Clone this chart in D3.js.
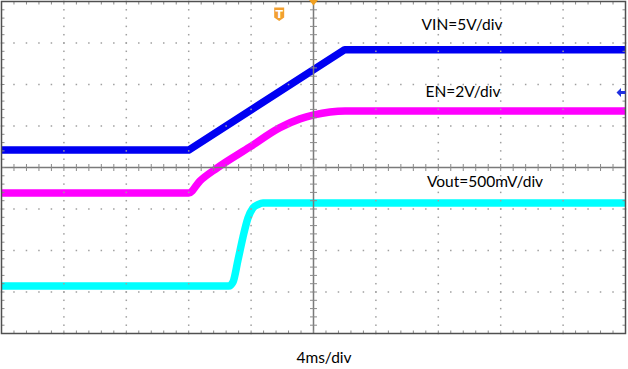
<!DOCTYPE html>
<html><head><meta charset="utf-8">
<script src="https://cdn.jsdelivr.net/npm/d3@7"></script>
<style>html,body{margin:0;padding:0;background:#fff;}svg{display:block;}</style>
</head><body>
<svg id="c" width="628" height="369"></svg>
<script>
// time axis: 4 ms/div, 10 divisions, trigger at centre
const timeRangeMs = [-20, 20];
// channel settings (volts per division, ground level in divisions from centre)
const channels = ["VIN", "EN", "Vout"];
const voltsPerDiv = [5, 2, 0.5];
const groundDiv = [0.42, -0.614, -2.855];
const channelLabels = ["VIN=5V/div", "EN=2V/div", "Vout=500mV/div"];
const timebaseLabel = "4ms/div";

// VIN trace
const vinTime = [-20, -8.0, 2.0, 20];
const vinVolts = [0, 0, 12.1, 12.1];
// EN trace
const enTime = [-20, -8.0, -7.28, -6.19, -4.07, -2.15, -0.87, 0.03, 1.06, 2.02, 20];
const enVolts = [0, 0, 0.58, 1.20, 2.22, 3.15, 3.57, 3.76, 3.90, 3.95, 3.95];
// Vout trace
const voutTime = [-20, -5.42, -5.16, -4.84, -4.52, -4.2, -3.88, -3.56, -3.24, 20];
const voutVolts = [0, 0, 0.048, 0.313, 0.59, 0.819, 0.94, 0.98, 1.0, 1.0];

const colors = ["#0000f2", "#ff00ff", "#00ffff"];

const svg = d3.select("#c");
const L = 1.5, R = 625.5, T = 1.5, B = 333.5;
const x = d3.scaleLinear().domain(timeRangeMs).range([L, R]);
const yDiv = d3.scaleLinear().domain([-4, 4]).range([B, T]);

const traces = [
  {t: vinTime, v: vinVolts, curve: d3.curveLinear},
  {t: enTime, v: enVolts, curve: d3.curveMonotoneX},
  {t: voutTime, v: voutVolts, curve: d3.curveMonotoneX}
];

// traces
traces.forEach((tr, i) => {
  const line = d3.line()
    .x((d, k) => x(tr.t[k]))
    .y((d, k) => yDiv(groundDiv[i] + tr.v[k] / voltsPerDiv[i]))
    .curve(tr.curve);
  svg.append("path")
    .attr("d", line(tr.v))
    .attr("fill", "none")
    .attr("stroke", colors[i])
    .attr("stroke-width", 7.5)
    .attr("stroke-linejoin", "round");
});

// grid
const g = svg.append("g");
const xMajor = d3.range(-20, 20.01, 4);
const yMajor = d3.range(-4, 4.01, 1);
const xMinor = d3.range(-20, 20.01, 0.8);
const yMinor = d3.range(-4, 4.01, 0.2);

// dotted grid lines
xMajor.forEach(t => {
  if (Math.abs(t) < 1e-9 || t === -20 || t === 20) return;
  yMinor.forEach(d => {
    g.append("rect").attr("x", x(t) - 0.75).attr("y", yDiv(d) - 0.75)
      .attr("width", 1.5).attr("height", 1.5).attr("fill", "#a0a0a0");
  });
});
yMajor.forEach(d => {
  if (Math.abs(d) < 1e-9 || d === -4 || d === 4) return;
  xMinor.forEach(t => {
    g.append("rect").attr("x", x(t) - 0.75).attr("y", yDiv(d) - 0.75)
      .attr("width", 1.5).attr("height", 1.5).attr("fill", "#a0a0a0");
  });
});

// centre cross lines with ticks
g.append("line").attr("x1", L).attr("x2", R).attr("y1", yDiv(0)).attr("y2", yDiv(0))
  .attr("stroke", "#7a7a7a").attr("stroke-width", 1.5);
g.append("line").attr("x1", x(0)).attr("x2", x(0)).attr("y1", T).attr("y2", B)
  .attr("stroke", "#7a7a7a").attr("stroke-width", 1.5);
xMinor.forEach(t => {
  g.append("line").attr("x1", x(t)).attr("x2", x(t)).attr("y1", yDiv(0) - 3.5).attr("y2", yDiv(0) + 3.5)
    .attr("stroke", "#8a8a8a").attr("stroke-width", 1);
  g.append("line").attr("x1", x(t)).attr("x2", x(t)).attr("y1", T).attr("y2", T + 3)
    .attr("stroke", "#8a8a8a").attr("stroke-width", 1);
  g.append("line").attr("x1", x(t)).attr("x2", x(t)).attr("y1", B - 3).attr("y2", B)
    .attr("stroke", "#8a8a8a").attr("stroke-width", 1);
});
yMinor.forEach(d => {
  g.append("line").attr("x1", x(0) - 3.5).attr("x2", x(0) + 3.5).attr("y1", yDiv(d)).attr("y2", yDiv(d))
    .attr("stroke", "#8a8a8a").attr("stroke-width", 1);
  g.append("line").attr("x1", L).attr("x2", L + 3).attr("y1", yDiv(d)).attr("y2", yDiv(d))
    .attr("stroke", "#8a8a8a").attr("stroke-width", 1);
  g.append("line").attr("x1", R - 3).attr("x2", R).attr("y1", yDiv(d)).attr("y2", yDiv(d))
    .attr("stroke", "#8a8a8a").attr("stroke-width", 1);
});

// frame
g.append("rect").attr("x", L).attr("y", T).attr("width", R - L).attr("height", B - T)
  .attr("fill", "none").attr("stroke", "#505050").attr("stroke-width", 1.5);

// trigger position marker (top centre)
svg.append("path")
  .attr("d", `M${x(0) - 4.5},0 L${x(0) + 4.5},0 L${x(0)},5.5 Z`)
  .attr("fill", "#f0a020");
// trigger "T" badge
const tx = x(-2.2), ty = 7.5;
svg.append("path")
  .attr("d", `M${tx - 5},${ty} h10 v10 l-5,3.5 l-5,-3.5 Z`)
  .attr("fill", "#f2a030");
svg.append("text").attr("x", tx).attr("y", ty + 10)
  .attr("text-anchor", "middle").attr("font-family", "DejaVu Sans").attr("font-weight", "bold")
  .attr("font-size", 11).attr("fill", "#fff").text("T");
// trigger level arrow (right edge)
const ay = 92.5;
svg.append("path")
  .attr("d", `M${R - 9},${ay} L${R - 4.5},${ay - 4.5} L${R - 4.5},${ay - 1.5} L${R},${ay - 1.5} L${R},${ay + 1.5} L${R - 4.5},${ay + 1.5} L${R - 4.5},${ay + 4.5} Z`)
  .attr("fill", "#2030e0");

// labels
const labelPos = [[462, 30], [463, 97], [485, 187]];
channelLabels.forEach((s, i) => {
  svg.append("text").attr("x", labelPos[i][0]).attr("y", labelPos[i][1])
    .attr("text-anchor", "middle").attr("font-family", "Lato").attr("font-size", 15.5)
    .attr("fill", "#000").text(s);
});
svg.append("text").attr("x", 324).attr("y", 363)
  .attr("text-anchor", "middle").attr("font-family", "Lato").attr("font-size", 15.5)
  .attr("fill", "#000").text(timebaseLabel);
</script>
</body></html>
